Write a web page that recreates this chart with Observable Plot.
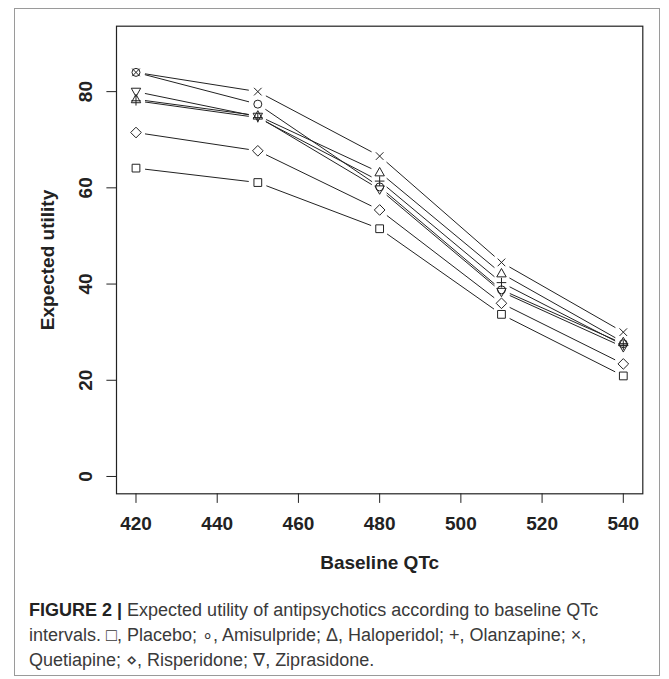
<!DOCTYPE html>
<html>
<head>
<meta charset="utf-8">
<script src="https://cdn.jsdelivr.net/npm/d3@7"></script>
<script src="https://cdn.jsdelivr.net/npm/@observablehq/plot@0.6"></script>
<style>
  html, body { margin: 0; padding: 0; background: #fff; }
  #page { position: relative; width: 669px; height: 679px; overflow: hidden; }
  #frame { position: absolute; left: 14px; top: 8px; width: 646px; height: 668px; border: 1px solid #9a9a9a; box-sizing: border-box; }
  #chart { position: absolute; left: 0; top: 0; }
  #caption { position: absolute; left: 29px; top: 598px; width: 628px; font-family: "Liberation Sans", Arial, sans-serif; font-size: 18px; line-height: 25px; color: #3a3a3a; white-space: nowrap; }
  #caption b { color: #222; }
</style>
</head>
<body>
<div id="page">
  <div id="frame"></div>
  <div id="chart"></div>
  <div id="caption"><b>FIGURE 2 |</b> Expected utility of antipsychotics according to baseline QTc<br>intervals. □, Placebo; ∘, Amisulpride; Δ, Haloperidol; +, Olanzapine; ×,<br>Quetiapine; ⋄, Risperidone; ∇, Ziprasidone.</div>
</div>
<script>
const qtc = [420, 450, 480, 510, 540];
const seriesNames = ["Placebo", "Amisulpride", "Haloperidol", "Olanzapine", "Quetiapine", "Risperidone", "Ziprasidone"];
const placebo     = [64.1, 61.1, 51.5, 33.7, 20.9];
const amisulpride = [84.0, 77.4, 60.2, 38.8, 27.6];
const haloperidol = [78.4, 75.0, 63.2, 42.2, 27.9];
const olanzapine  = [78.1, 74.6, 61.4, 40.3, 27.3];
const quetiapine  = [84.0, 80.0, 66.6, 44.5, 30.0];
const risperidone = [71.5, 67.7, 55.4, 36.0, 23.4];
const ziprasidone = [80.0, 74.8, 59.7, 38.4, 26.9];
const xTicks = [420, 440, 460, 480, 500, 520, 540];
const yTicks = [0, 20, 40, 60, 80];

const values = [placebo, amisulpride, haloperidol, olanzapine, quetiapine, risperidone, ziprasidone];

const sym = (f) => ({draw(ctx, size) { const r = Math.sqrt(size / Math.PI); f(ctx, r); }});
const symbols = [
  sym((c, r) => { const h = r * 0.97; c.moveTo(-h, -h); c.lineTo(h, -h); c.lineTo(h, h); c.lineTo(-h, h); c.closePath(); }),
  sym((c, r) => { c.moveTo(r, 0); c.arc(0, 0, r, 0, 2 * Math.PI); }),
  sym((c, r) => { c.moveTo(0, -r * 1.25); c.lineTo(r * 1.18, r * 0.85); c.lineTo(-r * 1.18, r * 0.85); c.closePath(); }),
  sym((c, r) => { const h = r * 1.2; c.moveTo(-h, 0); c.lineTo(h, 0); c.moveTo(0, -h); c.lineTo(0, h); }),
  sym((c, r) => { const h = r * 0.95; c.moveTo(-h, -h); c.lineTo(h, h); c.moveTo(-h, h); c.lineTo(h, -h); }),
  sym((c, r) => { const h = r * 1.33; c.moveTo(0, -h); c.lineTo(h, 0); c.lineTo(0, h); c.lineTo(-h, 0); c.closePath(); }),
  sym((c, r) => { c.moveTo(0, r * 1.25); c.lineTo(r * 1.18, -r * 0.85); c.lineTo(-r * 1.18, -r * 0.85); c.closePath(); })
];

const points = [];
const segments = [];
seriesNames.forEach((name, s) => {
  values[s].forEach((v, i) => {
    points.push({series: name, x: qtc[i], y: v});
    if (i < qtc.length - 1) segments.push({series: name, x1: qtc[i], y1: v, x2: qtc[i + 1], y2: values[s][i + 1]});
  });
});

const ink = "#222";
const font = {fontSize: 19, fontWeight: "bold"};

const chart = Plot.plot({
  width: 669,
  height: 590,
  marginLeft: 116,
  marginRight: 26.7,
  marginTop: 25.7,
  marginBottom: 96.7,
  style: {fontFamily: "'Liberation Sans', Arial, sans-serif", fontSize: "19px", background: "transparent", color: ink, overflow: "visible"},
  x: {domain: [415.2, 544.8]},
  y: {domain: [-3.6, 93.6]},
  marks: [
    Plot.frame({stroke: ink, strokeWidth: 1.2}),
    Plot.axisX(xTicks, {tickSize: 9.6, tickPadding: 13, stroke: ink, fill: ink, ...font, label: null}),
    Plot.axisY(yTicks, {tickSize: 9.6, tickFormat: () => "", stroke: ink, label: null}),
    Plot.text(yTicks, {y: d => d, text: d => String(d), frameAnchor: "left", dx: -31, rotate: -90, textAnchor: "middle", lineAnchor: "middle", fill: ink, ...font}),
    Plot.text(["Expected utility"], {frameAnchor: "left", dx: -69, rotate: -90, textAnchor: "middle", lineAnchor: "middle", fill: ink, ...font}),
    Plot.text(["Baseline QTc"], {frameAnchor: "bottom", dy: 69, textAnchor: "middle", lineAnchor: "middle", fill: ink, ...font}),
    Plot.arrow(segments, {x1: "x1", y1: "y1", x2: "x2", y2: "y2", bend: 0, headLength: 0, inset: 9.5, stroke: ink, strokeWidth: 1}),
    ...seriesNames.map((name, s) => Plot.dot(points.filter(p => p.series === name), {x: "x", y: "y", r: 4, symbol: symbols[s], fill: "none", stroke: ink, strokeWidth: 1}))
  ]
});
document.getElementById("chart").appendChild(chart);
</script>
</body>
</html>
